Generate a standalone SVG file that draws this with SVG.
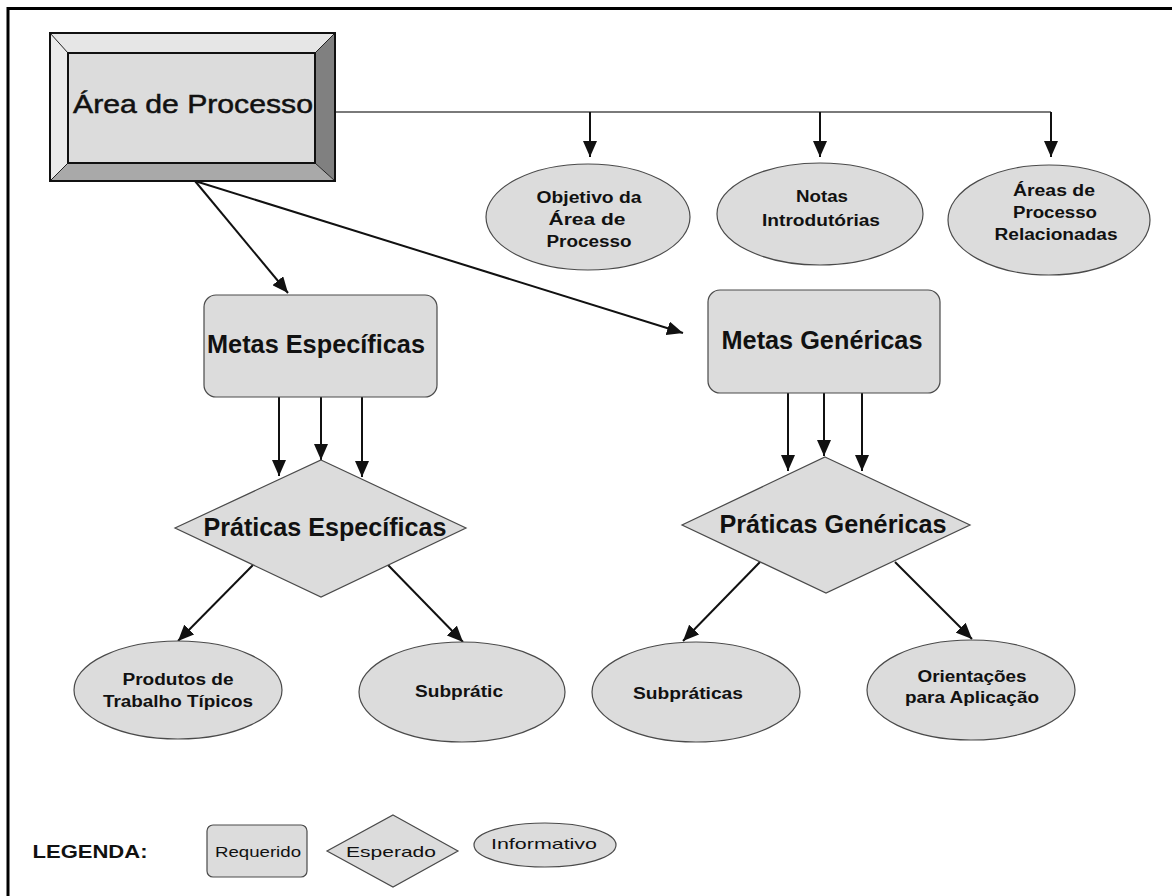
<svg xmlns="http://www.w3.org/2000/svg" width="1172" height="896" viewBox="0 0 1172 896">
  <style>
    .shape { fill: #dcdcdc; stroke: #4a4a4a; stroke-width: 1.2; }
    .conn { stroke: #111; stroke-width: 2; fill: none; marker-end: url(#head); }
    .t { font-family: "Liberation Sans", Arial, sans-serif; fill: #111; text-anchor: middle; }
    .big { font-size: 25px; font-weight: bold; }
    .small { font-size: 16px; font-weight: bold; }
    .leg { font-size: 15px; }
  </style>
  <defs>
    <marker id="head" markerUnits="userSpaceOnUse" markerWidth="16" markerHeight="14" refX="16" refY="7" orient="auto">
      <path d="M0,0 L16,7 L0,14 z" fill="#111"/>
    </marker>
  </defs>

  <rect width="1172" height="896" fill="#fff"/>
  <!-- page frame (top and left edges) -->
  <path d="M8,896 L8,8.5 L1172,8.5" fill="none" stroke="#000" stroke-width="3"/>

  <!-- connectors -->
  <g id="connectors">
    <line x1="335" y1="112" x2="1051" y2="112" stroke="#7a7a7a" stroke-width="2"/>
    <line class="conn" x1="590" y1="112" x2="590" y2="157"/>
    <line class="conn" x1="820" y1="112" x2="820" y2="157"/>
    <line class="conn" x1="1051" y1="112" x2="1051" y2="157"/>

    <line class="conn" x1="195" y1="181" x2="288" y2="293"/>
    <line class="conn" x1="195" y1="181" x2="683" y2="333"/>

    <line class="conn" x1="279" y1="397" x2="279" y2="476"/>
    <line class="conn" x1="321" y1="397" x2="321" y2="460"/>
    <line class="conn" x1="362" y1="397" x2="362" y2="477"/>

    <line class="conn" x1="788" y1="393" x2="788" y2="471"/>
    <line class="conn" x1="824" y1="393" x2="824" y2="456"/>
    <line class="conn" x1="862" y1="393" x2="862" y2="471"/>

    <line class="conn" x1="253" y1="565" x2="178" y2="641"/>
    <line class="conn" x1="388" y1="565" x2="463" y2="642"/>
    <line class="conn" x1="760" y1="562" x2="683" y2="641"/>
    <line class="conn" x1="895" y1="562" x2="972" y2="639"/>
  </g>

  <!-- bevelled process-area box -->
  <g id="area-processo">
    <rect x="50" y="33" width="285" height="148" fill="#dcdcdc"/>
    <polygon points="50,33 335,33 315,53 68,53" fill="#e6e6e6"/>
    <polygon points="50,33 68,53 68,163 50,181" fill="#ebebeb"/>
    <polygon points="335,33 335,181 315,163 315,53" fill="#808080"/>
    <polygon points="50,181 68,163 315,163 335,181" fill="#a9a9a9"/>
    <g stroke="#222" stroke-width="1">
      <line x1="50" y1="33" x2="68" y2="53"/>
      <line x1="335" y1="33" x2="315" y2="53"/>
      <line x1="50" y1="181" x2="68" y2="163"/>
      <line x1="335" y1="181" x2="315" y2="163"/>
    </g>
    <rect x="50" y="33" width="285" height="148" fill="none" stroke="#111" stroke-width="2"/>
    <rect x="68" y="53" width="247" height="110" fill="none" stroke="#111" stroke-width="2"/>
    <text class="t" x="193" y="113" font-size="26" stroke="#111" stroke-width="0.5" textLength="240" lengthAdjust="spacingAndGlyphs">Área de Processo</text>
  </g>

  <!-- informative items of the process area -->
  <g id="objetivo">
    <ellipse class="shape" cx="588" cy="217" rx="102" ry="53"/>
    <text class="t small" x="589" y="203" textLength="105" lengthAdjust="spacingAndGlyphs">Objetivo da</text>
    <text class="t small" x="587" y="225" textLength="77" lengthAdjust="spacingAndGlyphs">Área de</text>
    <text class="t small" x="589" y="247" textLength="85" lengthAdjust="spacingAndGlyphs">Processo</text>
  </g>
  <g id="notas">
    <ellipse class="shape" cx="820" cy="214" rx="103" ry="51"/>
    <text class="t small" x="822" y="202" textLength="52" lengthAdjust="spacingAndGlyphs">Notas</text>
    <text class="t small" x="821" y="226" textLength="118" lengthAdjust="spacingAndGlyphs">Introdutórias</text>
  </g>
  <g id="areas-relacionadas">
    <ellipse class="shape" cx="1049" cy="220" rx="101" ry="55"/>
    <text class="t small" x="1054" y="196" textLength="82" lengthAdjust="spacingAndGlyphs">Áreas de</text>
    <text class="t small" x="1055" y="218" textLength="84" lengthAdjust="spacingAndGlyphs">Processo</text>
    <text class="t small" x="1056" y="240" textLength="123" lengthAdjust="spacingAndGlyphs">Relacionadas</text>
  </g>

  <!-- required components -->
  <g id="metas-especificas">
    <rect class="shape" x="204" y="295" width="233" height="102" rx="12"/>
    <text class="t big" x="316" y="353" textLength="218" lengthAdjust="spacingAndGlyphs">Metas Específicas</text>
  </g>
  <g id="metas-genericas">
    <rect class="shape" x="708" y="290" width="232" height="103" rx="12"/>
    <text class="t big" x="822" y="349" textLength="201" lengthAdjust="spacingAndGlyphs">Metas Genéricas</text>
  </g>

  <!-- expected components -->
  <g id="praticas-especificas">
    <polygon class="shape" points="321,460 466,528 321,597 175,528"/>
    <text class="t big" x="325" y="536" textLength="243" lengthAdjust="spacingAndGlyphs">Práticas Específicas</text>
  </g>
  <g id="praticas-genericas">
    <polygon class="shape" points="825,457 970,525 826,593 682,525"/>
    <text class="t big" x="833" y="533" textLength="227" lengthAdjust="spacingAndGlyphs">Práticas Genéricas</text>
  </g>

  <!-- informative sub-items -->
  <g id="produtos">
    <ellipse class="shape" cx="178" cy="690" rx="104" ry="49"/>
    <text class="t small" x="178" y="685" textLength="111" lengthAdjust="spacingAndGlyphs">Produtos de</text>
    <text class="t small" x="178" y="707" textLength="150" lengthAdjust="spacingAndGlyphs">Trabalho Típicos</text>
  </g>
  <g id="subpratic">
    <ellipse class="shape" cx="462" cy="692" rx="103" ry="50"/>
    <text class="t small" x="459" y="697" textLength="88" lengthAdjust="spacingAndGlyphs">Subprátic</text>
  </g>
  <g id="subpraticas">
    <ellipse class="shape" cx="696" cy="692" rx="104" ry="50"/>
    <text class="t small" x="688" y="699" textLength="110" lengthAdjust="spacingAndGlyphs">Subpráticas</text>
  </g>
  <g id="orientacoes">
    <ellipse class="shape" cx="971" cy="690" rx="104" ry="50"/>
    <text class="t small" x="972" y="682" textLength="109" lengthAdjust="spacingAndGlyphs">Orientações</text>
    <text class="t small" x="972" y="703" textLength="134" lengthAdjust="spacingAndGlyphs">para Aplicação</text>
  </g>

  <!-- legend -->
  <g id="legenda">
    <text class="t" x="90" y="858" font-size="18" font-weight="bold" textLength="115" lengthAdjust="spacingAndGlyphs">LEGENDA:</text>
  </g>
  <g id="legenda-requerido">
    <rect class="shape" x="207" y="825" width="100" height="52" rx="6"/>
    <text class="t leg" x="258" y="857" textLength="86" lengthAdjust="spacingAndGlyphs">Requerido</text>
  </g>
  <g id="legenda-esperado">
    <polygon class="shape" points="393,815 458,851 393,887 327,851"/>
    <text class="t leg" x="391" y="857" textLength="90" lengthAdjust="spacingAndGlyphs">Esperado</text>
  </g>
  <g id="legenda-informativo">
    <ellipse class="shape" cx="545" cy="845" rx="71" ry="22"/>
    <text class="t leg" x="544" y="849" textLength="106" lengthAdjust="spacingAndGlyphs">Informativo</text>
  </g>
</svg>
